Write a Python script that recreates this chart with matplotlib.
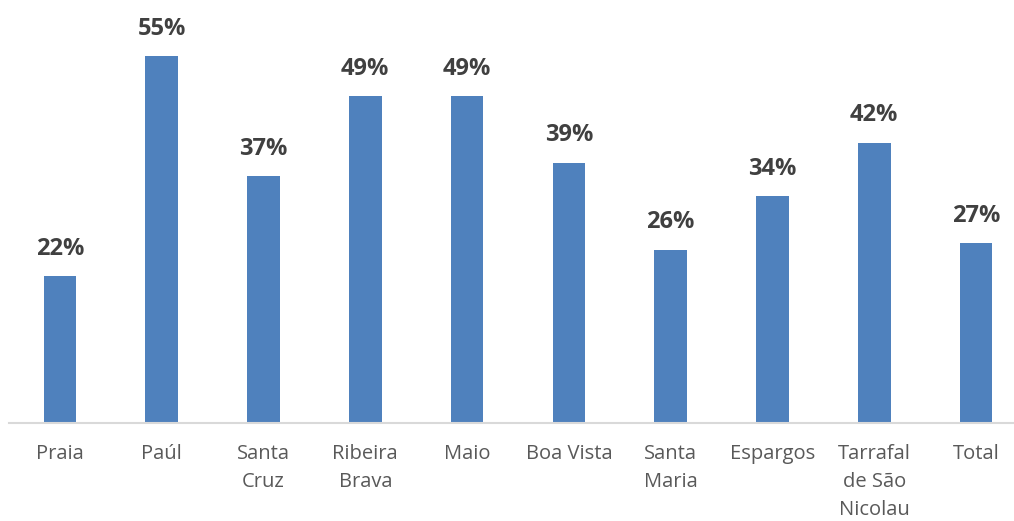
import matplotlib
matplotlib.use("Agg")
import matplotlib.pyplot as plt
import numpy as np

# share of respondents per municipality (%)
municipios = ["Praia", "Paúl", "Santa\nCruz", "Ribeira\nBrava", "Maio", "Boa Vista",
              "Santa\nMaria", "Espargos", "Tarrafal\nde São\nNicolau", "Total"]
valores = [22, 55, 37, 49, 49, 39, 26, 34, 42, 27]

plt.rcParams['font.family'] = ['Open Sans', 'DejaVu Sans']

fig = plt.figure(figsize=(10.14, 5.21), dpi=100)
ax = fig.add_axes([9 / 1014, 98 / 521, 1018 / 1014, 423 / 521])

x = np.arange(len(valores))
bars = ax.bar(x, valores, width=0.32, color="#4f81bd")

for b, v in zip(bars, valores):
    ax.text(b.get_x() + b.get_width() / 2, v + 2.3, f"{v}%", ha="center", va="bottom",
            fontsize=17, fontweight="bold", color="#404040")

ax.set_xlim(-0.5, len(valores) - 0.5)
ax.set_ylim(0, 63.4)
ax.set_xticks(x)
ax.set_xticklabels(municipios, fontsize=14.5, color="#595959", linespacing=1.55)
ax.tick_params(axis="x", length=0, pad=15)
ax.set_yticks([])

for s in ["top", "left", "right"]:
    ax.spines[s].set_visible(False)
ax.spines["bottom"].set_color("#d9d9d9")
ax.spines["bottom"].set_linewidth(1.5)

fig.savefig("out.png", dpi=100)
